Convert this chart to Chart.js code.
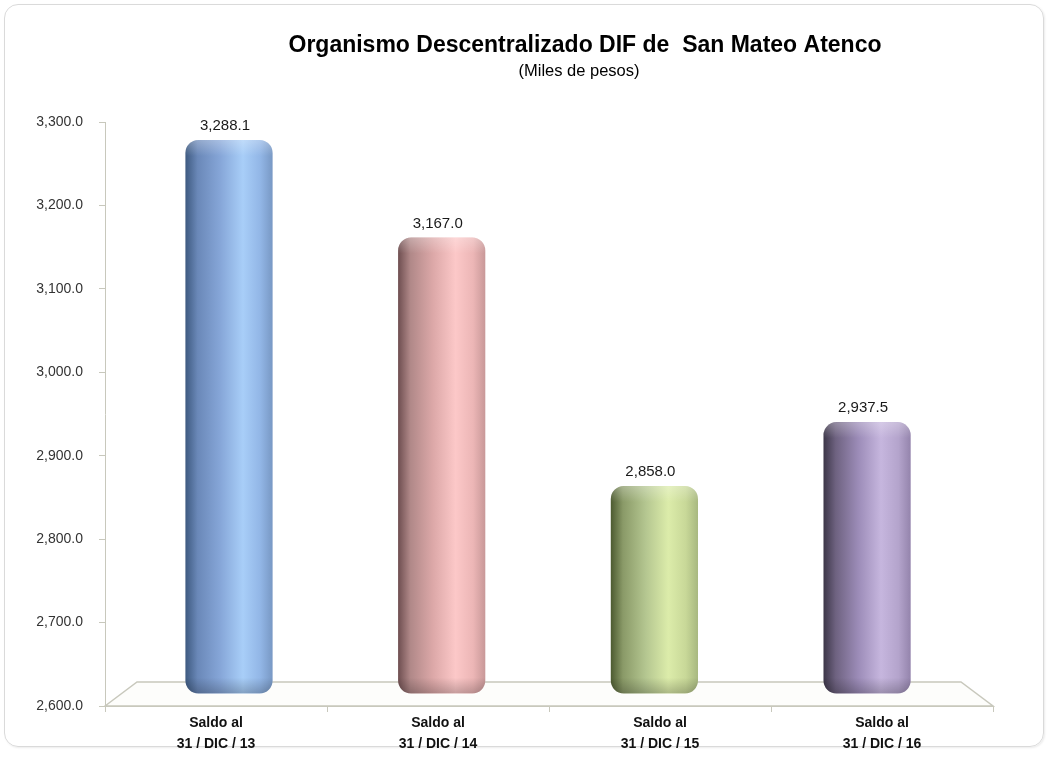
<!DOCTYPE html>
<html>
<head>
<meta charset="utf-8">
<script src="https://cdn.jsdelivr.net/npm/chart.js@4.4.1/dist/chart.umd.min.js"></script>
<style>
  html, body { margin: 0; padding: 0; background: #fff; }
  #wrap { position: relative; width: 1050px; height: 757px; }
  #marco {
    position: absolute; left: 4px; top: 4px; width: 1038px; height: 741px;
    border: 1px solid #dadada; border-radius: 14px;
    box-shadow: 1px 1px 2px rgba(0, 0, 0, 0.08);
  }
  canvas { position: absolute; left: 0; top: 0; }
</style>
</head>
<body>
<div id="wrap">
  <div id="marco"></div>
  <canvas id="grafico" width="1050" height="757"></canvas>
</div>
<script>
// ---- datos ----
const categorias = [
  ["Saldo al", "31 / DIC / 13"],
  ["Saldo al", "31 / DIC / 14"],
  ["Saldo al", "31 / DIC / 15"],
  ["Saldo al", "31 / DIC / 16"]
];
const saldos = [3288.1, 3167.0, 2858.0, 2937.5];
const ticksY = [2600, 2700, 2800, 2900, 3000, 3100, 3200, 3300];

const titulo = "Organismo Descentralizado DIF de  San Mateo Atenco";
const subtitulo = "(Miles de pesos)";

// colores de cada cilindro (de izquierda oscura a derecha)
const coloresBarras = [
  ["#3e5a80", "#6a88b8", "#86a6d8", "#a8cef8", "#92b6e6", "#7898c4"],
  ["#6e4e50", "#b08888", "#dca8a8", "#fcc8c8", "#ecb6b6", "#c89898"],
  ["#4c5a30", "#8a9a68", "#b4c690", "#dcecaa", "#c8d898", "#a8b880"],
  ["#3c3648", "#6e6280", "#9c8cb8", "#c6b6de", "#b4a4cc", "#9484ac"]
];
const paradas = [0, 0.14, 0.4, 0.66, 0.86, 1];

const colorEje = "#c8c8bc";
Chart.defaults.font.family = 'Arial, "Liberation Sans", sans-serif';

function formatoMiles(v) {
  return Number(v).toLocaleString("en-US", { minimumFractionDigits: 1, maximumFractionDigits: 1 });
}

// piso en perspectiva + gradiente horizontal de cada cilindro
const pluginPiso = {
  id: "piso",
  beforeDatasetsDraw(chart) {
    const { ctx, chartArea } = chart;
    const y0 = chart.scales.y.getPixelForValue(ticksY[0]);
    const dx = 32, dy = 24;
    ctx.save();
    ctx.beginPath();
    ctx.moveTo(chartArea.left, y0);
    ctx.lineTo(chartArea.left + dx, y0 - dy);
    ctx.lineTo(chartArea.right - dx, y0 - dy);
    ctx.lineTo(chartArea.right, y0);
    ctx.closePath();
    ctx.fillStyle = "#fdfdfb";
    ctx.fill();
    ctx.strokeStyle = colorEje;
    ctx.lineWidth = 1.5;
    ctx.stroke();
    ctx.restore();

    chart.getDatasetMeta(0).data.forEach((el, i) => {
      const w = el.width;
      if (!isFinite(el.x) || !isFinite(w)) return;
      const g = ctx.createLinearGradient(el.x - w / 2, 0, el.x + w / 2, 0);
      coloresBarras[i].forEach((c, k) => g.addColorStop(paradas[k], c));
      el.options.backgroundColor = g;
    });
  }
};

// brillo superior y sombra inferior de los cilindros + etiquetas
const pluginCilindros = {
  id: "cilindros",
  afterDatasetsDraw(chart) {
    const { ctx } = chart;
    const meta = chart.getDatasetMeta(0);
    meta.data.forEach((el, i) => {
      const w = el.width, x = el.x - w / 2, top = el.y, base = el.base;
      ctx.save();
      ctx.beginPath();
      ctx.roundRect(x, top, w, base - top, 13);
      ctx.clip();
      let g = ctx.createLinearGradient(0, top, 0, top + 16);
      g.addColorStop(0, "rgba(255,255,255,0.28)");
      g.addColorStop(1, "rgba(255,255,255,0)");
      ctx.fillStyle = g;
      ctx.fillRect(x, top, w, 16);
      g = ctx.createLinearGradient(0, base - 16, 0, base);
      g.addColorStop(0, "rgba(0,0,0,0)");
      g.addColorStop(1, "rgba(0,0,0,0.22)");
      ctx.fillStyle = g;
      ctx.fillRect(x, base - 16, w, 16);
      ctx.restore();

      ctx.save();
      ctx.font = '15px Arial, "Liberation Sans", sans-serif';
      ctx.fillStyle = "#1a1a1a";
      ctx.textAlign = "center";
      ctx.textBaseline = "middle";
      ctx.fillText(formatoMiles(saldos[i]), el.x - 4, top - 14);
      ctx.restore();
    });
  }
};

// título desplazado como en el original
const pluginTitulo = {
  id: "tituloPropio",
  afterDraw(chart) {
    const { ctx } = chart;
    ctx.save();
    ctx.fillStyle = "#000";
    ctx.textAlign = "center";
    ctx.textBaseline = "middle";
    ctx.font = 'bold 23px Arial, "Liberation Sans", sans-serif';
    ctx.fillText(titulo, 585, 46);
    ctx.font = '16.5px Arial, "Liberation Sans", sans-serif';
    ctx.fillText(subtitulo, 579, 71);
    ctx.restore();
  }
};

new Chart(document.getElementById("grafico"), {
  type: "bar",
  data: {
    labels: categorias,
    datasets: [{
      label: "Saldo",
      data: saldos.map((v, i) => ({ x: i, y: v })),
      xAxisID: "xb",
      yAxisID: "yb",
      base: ticksY[0],
      backgroundColor: (c) => coloresBarras[c.dataIndex][3],
      borderWidth: 0,
      borderRadius: 13,
      borderSkipped: false,
      barPercentage: 0.41,
      categoryPercentage: 1
    }]
  },
  options: {
    responsive: false,
    animation: false,
    layout: { padding: { top: 122, right: 57, bottom: 0, left: 0 } },
    plugins: {
      legend: { display: false },
      title: { display: false },
      tooltip: { enabled: false }
    },
    scales: {
      x: {
        type: "category",
        position: "bottom",
        offset: true,
        grid: { offset: true, drawOnChartArea: false, tickLength: 6, color: colorEje },
        border: { color: colorEje },
        ticks: { font: { size: 14, weight: "bold", lineHeight: 1.5 }, color: "#111", padding: 1, maxRotation: 0, autoSkip: false },
        afterFit(s) { s.height = 51; }
      },
      y: {
        type: "linear",
        position: "left",
        min: ticksY[0],
        max: ticksY[ticksY.length - 1],
        ticks: { stepSize: ticksY[1] - ticksY[0], callback: formatoMiles, font: { size: 14 }, color: "#333", padding: 16 },
        grid: { drawOnChartArea: false, tickLength: 6, color: colorEje },
        border: { color: colorEje },
        afterFit(s) { s.width = 105; }
      },
      // ejes ocultos del plano de fondo (perspectiva 3D)
      xb: {
        type: "linear", axis: "x", display: false, offset: false,
        min: -0.583, max: 3.592,
        afterBuildTicks(s) { s.ticks = saldos.map((v, i) => ({ value: i })); }
      },
      yb: { type: "linear", axis: "y", display: false, min: 2584.6, max: 3310.5 }
    }
  },
  plugins: [pluginPiso, pluginCilindros, pluginTitulo]
});
</script>
</body>
</html>
